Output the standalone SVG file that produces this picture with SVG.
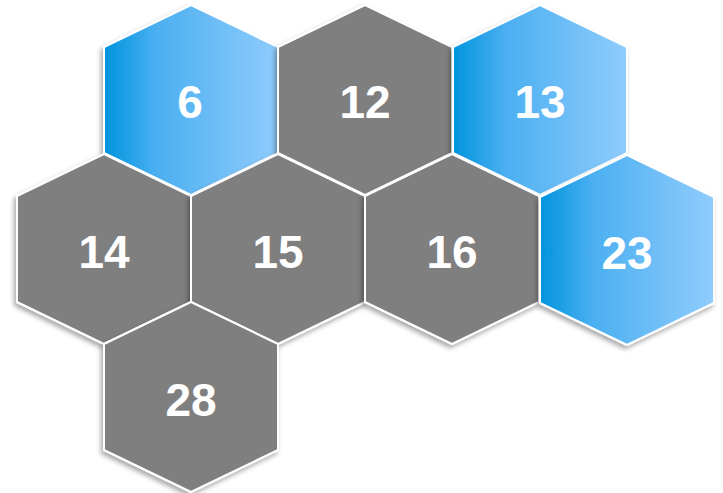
<svg xmlns="http://www.w3.org/2000/svg" width="723" height="493" viewBox="0 0 723 493">
  <defs>
    <linearGradient id="blue" x1="0" y1="0" x2="1" y2="0">
      <stop offset="0" stop-color="#0094DE"/>
      <stop offset="0.3" stop-color="#4BAFF1"/>
      <stop offset="1" stop-color="#8FCCFC"/>
    </linearGradient>
    <filter id="sh" x="-10%" y="-10%" width="125%" height="125%">
      <feDropShadow dx="-2" dy="3" stdDeviation="2.5" flood-color="#000" flood-opacity="0.35"/>
    </filter>
    <style>
      .hex { stroke: #FFFFFF; stroke-width: 2; stroke-linejoin: round; filter: url(#sh); }
      .gray { fill: #7F7F7F; }
      .blue { fill: url(#blue); }
      .lbl { font-family: "Liberation Sans", Arial, sans-serif; font-weight: bold; font-size: 46px; fill: #FFFFFF; text-anchor: middle; }
    </style>
  </defs>
  <rect width="723" height="493" fill="#FFFFFF"/>
  <g id="connectors"/>
  <g id="node-6">
    <polygon class="hex blue" points="191,5 278,47 278,153 191,195 104,153 104,47"/>
    <text class="lbl" x="190" y="118">6</text>
  </g>
  <g id="node-12">
    <polygon class="hex gray" points="365,5 452,47 452,153 365,195 278,153 278,47"/>
    <text class="lbl" x="365" y="118">12</text>
  </g>
  <g id="node-13">
    <polygon class="hex blue" points="540,5 627,47 627,153 540,195 453,153 453,47"/>
    <text class="lbl" x="540" y="118">13</text>
  </g>
  <g id="node-14">
    <polygon class="hex gray" points="104,154 191,196 191,302 104,344 17,302 17,196"/>
    <text class="lbl" x="104" y="268">14</text>
  </g>
  <g id="node-15">
    <polygon class="hex gray" points="278,154 365,196 365,302 278,344 191,302 191,196"/>
    <text class="lbl" x="278" y="268">15</text>
  </g>
  <g id="node-16">
    <polygon class="hex gray" points="452,154 539,196 539,302 452,344 365,302 365,196"/>
    <text class="lbl" x="452" y="268">16</text>
  </g>
  <g id="node-23">
    <polygon class="hex blue" points="627,155 714,197 714,303 627,345 540,303 540,197"/>
    <text class="lbl" x="627" y="269">23</text>
  </g>
  <g id="node-28">
    <polygon class="hex gray" points="191,302 278,344 278,450 191,492 104,450 104,344"/>
    <text class="lbl" x="191" y="416">28</text>
  </g>
</svg>
